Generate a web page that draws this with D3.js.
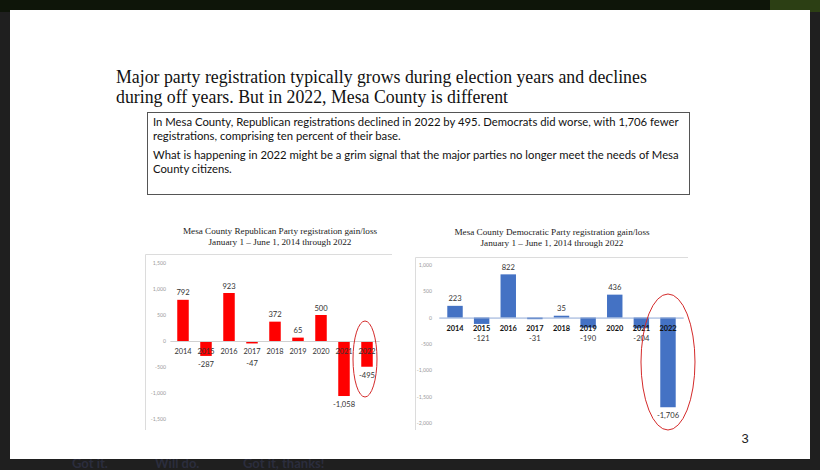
<!DOCTYPE html>
<html>
<head>
<meta charset="utf-8">
<script src="https://cdn.jsdelivr.net/npm/d3@7"></script>
<style>
  body { margin: 0; background: #1e1e1e; }
  svg { display: block; }
</style>
</head>
<body>
<svg id="slide" width="820" height="470"></svg>
<script>
// chart data
const years = ['2014', '2015', '2016', '2017', '2018', '2019', '2020', '2021', '2022'];
const repValues = [792, -287, 923, -47, 372, 65, 500, -1058, -495];
const demValues = [223, -121, 822, -31, 35, -190, 436, -204, -1706];
const repTicks = [1500, 1000, 500, 0, -500, -1000, -1500];
const demTicks = [1000, 500, 0, -500, -1000, -1500, -2000];

const headline = [
  'Major party registration typically grows during election years and declines',
  'during off years. But in 2022, Mesa County is different'
];
const boxLines = [
  'In Mesa County, Republican registrations declined in 2022 by 495. Democrats did worse, with 1,706 fewer',
  'registrations, comprising ten percent of their base.',
  'What is happening in 2022 might be a grim signal that the major parties no longer meet the needs of Mesa',
  'County citizens.'
];
const replies = ['Got it.', 'Will do.', 'Got it, thanks!'];

const fmt = d3.formatLocale({ decimal: '.', thousands: ',', grouping: [3], currency: ['$', ''], minus: '-' }).format(',');

const svg = d3.select('#slide');

// app chrome behind the slide
svg.append('rect').attr('width', 820).attr('height', 470).attr('fill', '#1f1f1f');
svg.append('rect').attr('width', 820).attr('height', 12).attr('fill', '#0e1509');
svg.append('rect').attr('x', 770).attr('width', 50).attr('height', 12).attr('fill', '#2c3f14');

const replyX = [72, 155, 243];
svg.selectAll('text.reply')
  .data(replies)
  .enter()
  .append('text')
  .attr('class', 'reply')
  .attr('x', (d, i) => replyX[i])
  .attr('y', 467.5)
  .attr('font-family', 'Lato, sans-serif')
  .attr('font-weight', 'bold')
  .attr('font-size', 13)
  .attr('fill', '#2b2d3d')
  .text((d) => d);

// the slide itself
svg.append('rect')
  .attr('x', 10).attr('y', 10)
  .attr('width', 800).attr('height', 449)
  .attr('fill', '#ffffff');

svg.append('g')
  .selectAll('text')
  .data(headline)
  .enter()
  .append('text')
  .attr('x', 116)
  .attr('y', (d, i) => 83 + i * 20)
  .attr('font-family', '"Liberation Serif", "Times New Roman", serif')
  .attr('font-size', 17.8)
  .attr('fill', '#111')
  .text((d) => d);

svg.append('rect')
  .attr('x', 147.5).attr('y', 112.5)
  .attr('width', 542).attr('height', 82)
  .attr('fill', 'none')
  .attr('stroke', '#555')
  .attr('stroke-width', 1);

const boxY = [126, 140, 159, 173];
svg.append('g')
  .selectAll('text')
  .data(boxLines)
  .enter()
  .append('text')
  .attr('x', 153)
  .attr('y', (d, i) => boxY[i])
  .attr('font-family', 'Lato, "Open Sans", sans-serif')
  .attr('font-size', 11.3)
  .attr('fill', '#111')
  .text((d) => d);

svg.append('text')
  .attr('x', 745).attr('y', 443)
  .attr('text-anchor', 'middle')
  .attr('font-family', '"Liberation Sans Narrow", "Liberation Sans", sans-serif')
  .attr('font-size', 13)
  .attr('fill', '#222')
  .text('3');

function drawChart(cfg) {
  const g = svg.append('g');

  const x = d3.scaleBand()
    .domain(years)
    .range(cfg.xRange)
    .paddingInner(cfg.padInner)
    .paddingOuter(cfg.padInner / 2);

  const y = d3.scaleLinear()
    .domain(cfg.yDomain)
    .range(cfg.yRange);

  // titles
  g.selectAll('text.title')
    .data(cfg.title)
    .enter()
    .append('text')
    .attr('class', 'title')
    .attr('x', cfg.titleX)
    .attr('y', (d, i) => cfg.titleY + i * 11)
    .attr('text-anchor', 'middle')
    .attr('font-family', '"Liberation Serif", "Times New Roman", serif')
    .attr('font-size', 9.2)
    .attr('fill', '#222')
    .text((d) => d);

  // frame (only left and top edges show)
  const fr = cfg.frame;
  g.append('path')
    .attr('d', `M${fr.x0},${fr.y1}V${fr.y0}H${fr.x1}`)
    .attr('fill', 'none')
    .attr('stroke', '#dcdcdc')
    .attr('stroke-width', 1);

  // y axis, labels only
  const yAxis = g.append('g')
    .attr('transform', `translate(${cfg.axisX},0)`)
    .call(d3.axisLeft(y).tickValues(cfg.ticks).tickSize(0).tickPadding(2).tickFormat(fmt));
  yAxis.select('.domain').remove();
  yAxis.selectAll('text')
    .attr('font-family', 'Lato, sans-serif')
    .attr('font-size', 5.2)
    .attr('fill', '#9a9a9a');

  // bars
  g.selectAll('rect.bar')
    .data(cfg.values)
    .enter()
    .append('rect')
    .attr('class', 'bar')
    .attr('x', (d, i) => x(years[i]))
    .attr('y', (d) => y(Math.max(0, d)))
    .attr('width', x.bandwidth())
    .attr('height', (d) => Math.abs(y(d) - y(0)))
    .attr('fill', cfg.color);

  // zero line
  g.append('line')
    .attr('x1', x(years[0]) - x.step() * 0.3)
    .attr('x2', x(years[8]) + x.bandwidth() + x.step() * 0.3)
    .attr('y1', y(0) + 0.5)
    .attr('y2', y(0) + 0.5)
    .attr('stroke', cfg.zeroColor)
    .attr('stroke-width', 1);

  // year labels
  g.selectAll('text.year')
    .data(years)
    .enter()
    .append('text')
    .attr('class', 'year')
    .attr('x', (d) => x(d) + x.bandwidth() / 2)
    .attr('y', y(0) + cfg.yearDy)
    .attr('text-anchor', 'middle')
    .attr('font-family', 'Lato, sans-serif')
    .attr('font-weight', cfg.yearWeight)
    .attr('font-size', 7.4)
    .attr('fill', cfg.yearColor)
    .text((d) => d);

  // value labels
  g.selectAll('text.val')
    .data(cfg.values)
    .enter()
    .append('text')
    .attr('class', 'val')
    .attr('x', (d, i) => x(years[i]) + x.bandwidth() / 2)
    .attr('y', (d) => d >= 0 ? y(d) - 4.5 : Math.max(y(d) + 11, y(0) + cfg.negMin))
    .attr('text-anchor', 'middle')
    .attr('font-family', 'Lato, sans-serif')
    .attr('font-size', 7.6)
    .attr('fill', '#333')
    .text((d) => fmt(d));

  // red ring round 2022
  const last = years[8];
  g.append('ellipse')
    .attr('cx', x(last) + x.bandwidth() / 2 + cfg.ring.dx)
    .attr('cy', cfg.ring.cy)
    .attr('rx', cfg.ring.rx)
    .attr('ry', cfg.ring.ry)
    .attr('fill', 'none')
    .attr('stroke', '#d42a2a')
    .attr('stroke-width', 1);
}

drawChart({
  title: ['Mesa County Republican Party registration gain/loss', 'January 1 \u2013  June 1, 2014 through 2022'],
  titleX: 280, titleY: 234,
  values: repValues,
  ticks: repTicks,
  color: '#ff0000',
  xRange: [171.5, 378.5],
  padInner: 0.5,
  yDomain: [-1500, 1500],
  yRange: [419, 263],
  axisX: 168,
  frame: { x0: 145.5, x1: 392, y0: 254.5, y1: 430 },
  zeroColor: '#d0d0d0',
  yearDy: 13,
  yearWeight: 'normal',
  yearColor: '#333',
  negMin: 25,
  ring: { dx: -2, cy: 359, rx: 12, ry: 38 }
});

drawChart({
  title: ['Mesa County Democratic Party  registration gain/loss', 'January 1 \u2013 June 1, 2014 through 2022'],
  titleX: 552, titleY: 235,
  values: demValues,
  ticks: demTicks,
  color: '#4472c4',
  xRange: [441.7, 681.3],
  padInner: 0.42,
  yDomain: [-2000, 1000],
  yRange: [422.7, 265],
  axisX: 434,
  frame: { x0: 415.5, x1: 688, y0: 257.5, y1: 430 },
  zeroColor: '#8fa9d6',
  yearDy: 13,
  yearWeight: 'bold',
  yearColor: '#111',
  negMin: 23,
  ring: { dx: 0, cy: 362, rx: 27, ry: 68 }
});
</script>
</body>
</html>
